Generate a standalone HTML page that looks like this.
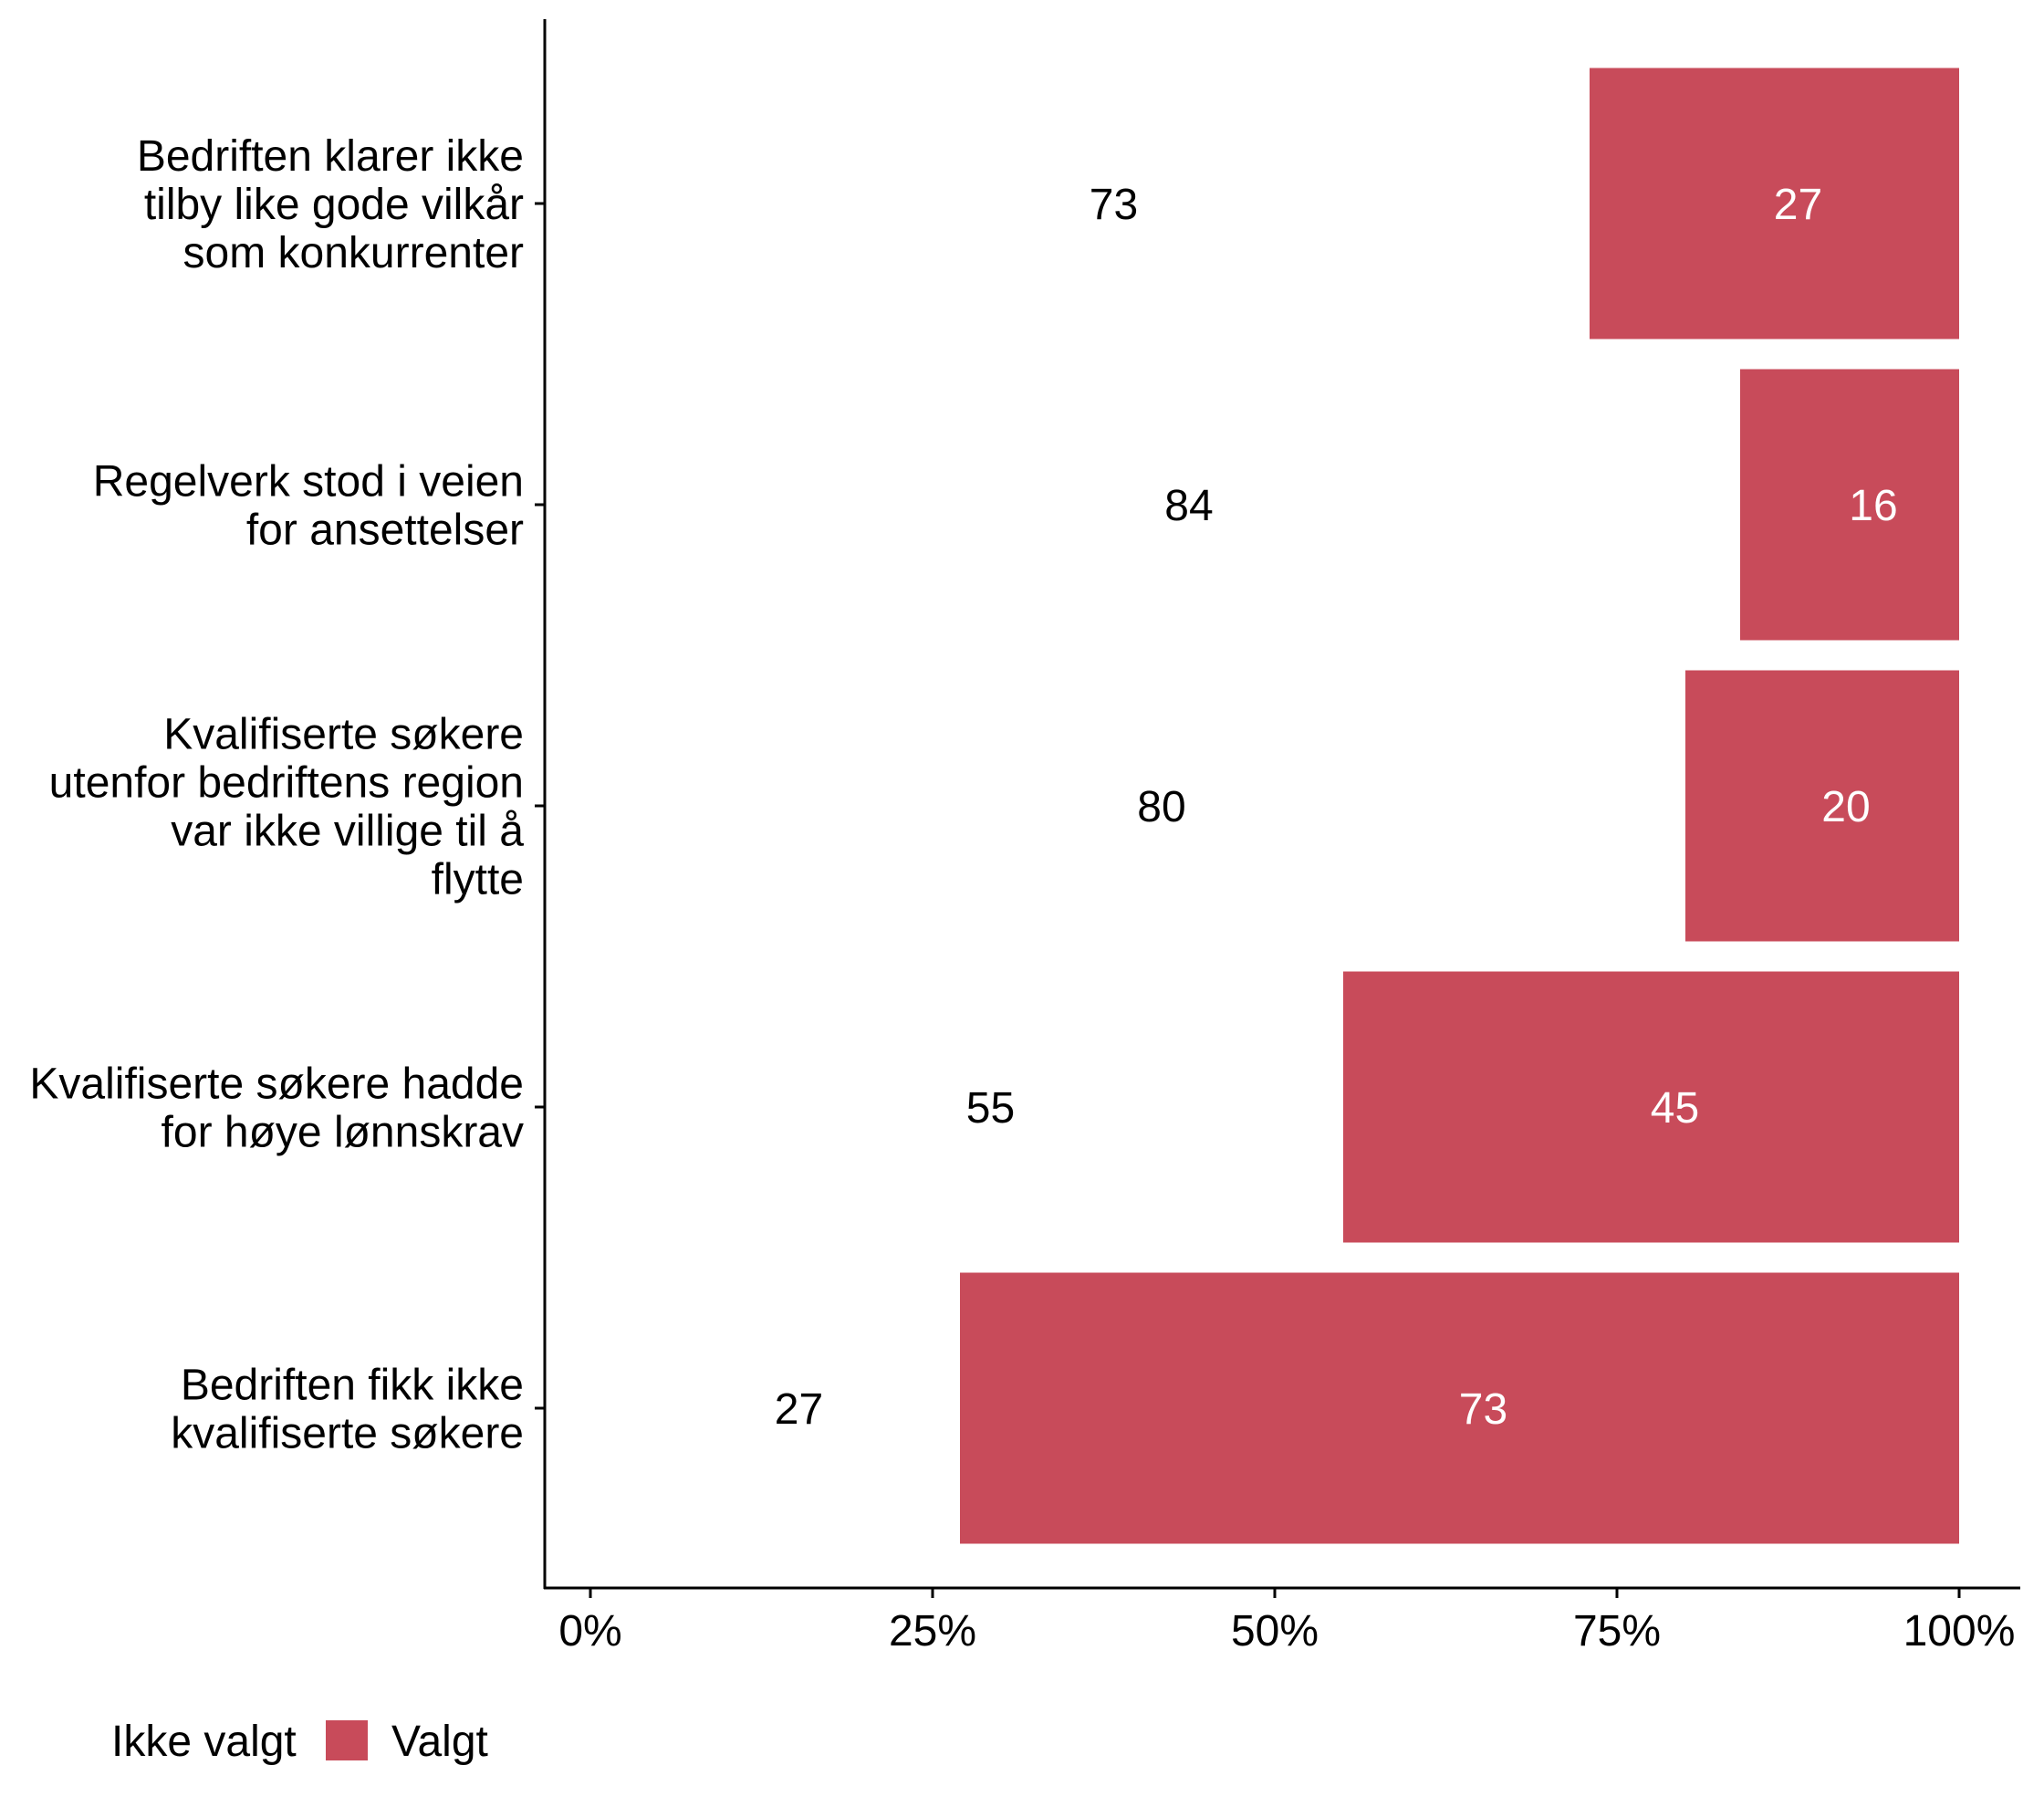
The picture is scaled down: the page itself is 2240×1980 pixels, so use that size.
<!DOCTYPE html>
<html><head><meta charset="utf-8"><style>
html,body{margin:0;padding:0;background:#fff;}
svg{display:block;font-family:"Liberation Sans",Arial,sans-serif;}
</style></head><body>
<svg id="chart" width="2240" height="1980" viewBox="0 0 2240 1980" xmlns="http://www.w3.org/2000/svg">
<g id="g"></g>
</svg>
<script>
const categories = [
  ["Bedriften klarer ikke","tilby like gode vilkår","som konkurrenter"],
  ["Regelverk stod i veien","for ansettelser"],
  ["Kvalifiserte søkere","utenfor bedriftens region","var ikke villige til å","flytte"],
  ["Kvalifiserte søkere hadde","for høye lønnskrav"],
  ["Bedriften fikk ikke","kvalifiserte søkere"]
];
const ikkeValgt = [73, 84, 80, 55, 27];
const valgt = [27, 16, 20, 45, 73];
const tickValues = [0, 25, 50, 75, 100];
const tickLabels = ["0%", "25%", "50%", "75%", "100%"];

const NS = "http://www.w3.org/2000/svg";
const g = document.getElementById("g");
const x0 = 647, x1 = 2147;
const xScale = v => x0 + (x1 - x0) * v / 100;
const rowTop = 223, rowStep = 330;
const yScale = i => rowTop + i * rowStep;
const barH = 297;
const labelOff = 26;
const FS = 48;

function el(tag, attrs, text) {
  const e = document.createElementNS(NS, tag);
  for (const k in attrs) e.setAttribute(k, attrs[k]);
  if (text !== undefined) e.textContent = text;
  g.appendChild(e);
  return e;
}

categories.forEach((cat, i) => {
  const cy = yScale(i);
  const total = ikkeValgt[i] + valgt[i];
  const start = ikkeValgt[i] / total * 100;
  const bar = el("rect", {x: xScale(start), y: cy - barH / 2, width: xScale(100) - xScale(start), height: barH, fill: "#C84B5A"});
  
  
  const t1 = el("text", {x: xScale(start / 2) + labelOff, y: cy + 17, "font-size": FS, "text-anchor": "middle", fill: "#000"}, ikkeValgt[i]);
  
  
  const t2 = el("text", {x: xScale(start + (100 - start) / 2) + labelOff, y: cy + 17, "font-size": FS, "text-anchor": "middle", fill: "#fff"}, valgt[i]);
  
  
  const tk = el("line", {x1: 586, x2: 597, y1: cy, y2: cy, stroke: "#000", "stroke-width": 3});
  
  
  const n = cat.length, lh = 53;
  cat.forEach((line, j) => {
    const t = el("text", {x: 574, y: cy + (j - (n - 1) / 2) * lh + 17, "font-size": FS, "text-anchor": "end", fill: "#000"}, line);
    
    
  });
});

const ya = el("line", {x1: 597, x2: 597, y1: 21, y2: 1741, stroke: "#000", "stroke-width": 3});


const xa = el("line", {x1: 596, x2: 2214, y1: 1740, y2: 1740, stroke: "#000", "stroke-width": 3});



tickValues.forEach((v, i) => {
  const tx = xScale(v);
  const l = el("line", {x1: tx, x2: tx, y1: 1740, y2: 1751, stroke: "#000", "stroke-width": 3});
  
  
  const t = el("text", {x: tx, y: 1803, "font-size": FS, "text-anchor": "middle", fill: "#000"}, tickLabels[i]);
  
  
});

const lg1 = el("text", {x: 122, y: 1924, "font-size": FS, fill: "#000"}, "Ikke valgt");


const sw = el("rect", {x: 357, y: 1885, width: 46, height: 44, fill: "#C84B5A"});


const lg2 = el("text", {x: 429, y: 1924, "font-size": FS, fill: "#000"}, "Valgt");


</script>
</body></html>
